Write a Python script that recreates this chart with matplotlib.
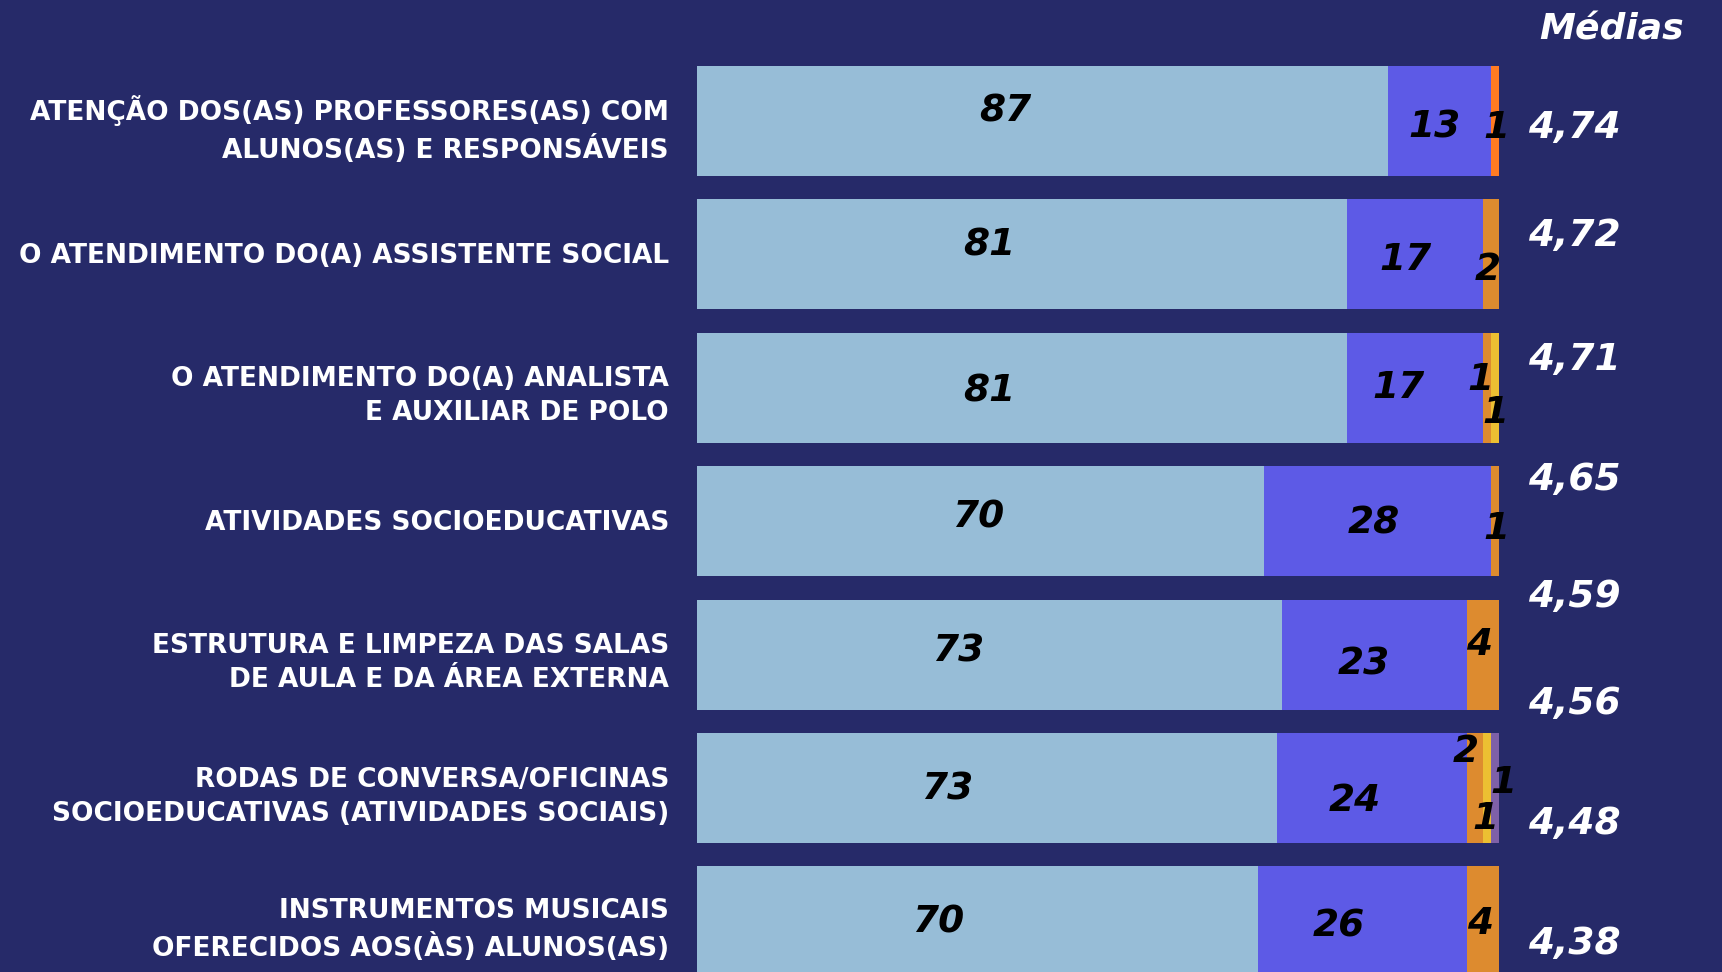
import numpy as np
import matplotlib
matplotlib.use("Agg")
import matplotlib.pyplot as plt

# ======================================
# Data
# ======================================
categories = [
    "ATENÇÃO DOS(AS) PROFESSORES(AS) COM\nALUNOS(AS) E RESPONSÁVEIS",
    "O ATENDIMENTO DO(A) ASSISTENTE SOCIAL",
    "O ATENDIMENTO DO(A) ANALISTA\nE AUXILIAR DE POLO",
    "ATIVIDADES SOCIOEDUCATIVAS",
    "ESTRUTURA E LIMPEZA DAS SALAS\nDE AULA E DA ÁREA EXTERNA",
    "RODAS DE CONVERSA/OFICINAS\nSOCIOEDUCATIVAS (ATIVIDADES SOCIAIS)",
    "INSTRUMENTOS MUSICAIS\nOFERECIDOS AOS(ÀS) ALUNOS(AS)",
]
otimo   = [87, 81, 81, 70, 73, 73, 70]
bom     = [13, 17, 17, 28, 23, 24, 26]
regular = [0, 2, 1, 1, 4, 2, 4]
ruim    = [0, 0, 1, 0, 0, 1, 0]
pessimo = [0, 0, 0, 0, 0, 1, 0]
outro   = [1, 0, 0, 0, 0, 0, 0]

medias = ["4,74", "4,72", "4,71", "4,65", "4,59", "4,56", "4,48", "4,38"]

# ======================================
# Style / layout
# ======================================
bg = "#262a69"
series = [otimo, bom, regular, ruim, pessimo, outro]
colors = ["#97bdd7", "#5d5ae6", "#dd8b2f", "#ecbf32", "#7e60a8", "#ff7b22"]

# hand placement of the value labels (x in %, y shift in rows)
label_pos = [
    [(38.5, -0.074), (91.9, 0.05), (99.7, 0.05)],
    [(36.4, -0.07), (88.4, 0.045), (98.6, 0.12)],
    [(36.4, 0.03), (87.5, 0.0), (97.7, -0.06), (99.5, 0.19)],
    [(35.1, -0.03), (84.4, 0.02), (99.7, 0.06)],
    [(32.6, -0.025), (83.1, 0.075), (97.5, -0.075)],
    [(31.2, 0.01), (82.0, 0.10), (95.8, -0.27), (98.3, 0.23), (100.5, -0.04)],
    [(30.1, 0.01), (80.0, 0.04), (97.7, 0.02)],
]
media_y = [0.05, 0.86, 1.79, 2.69, 3.57, 4.37, 5.27, 6.17]

fig = plt.figure(figsize=(17.22, 9.72), dpi=100, facecolor=bg)
ax = fig.add_axes([697 / 1722, 0, 802 / 1722, 1])
ax.set_facecolor(bg)
ax.set_xlim(0, 100)
ax.set_ylim(6.379, -0.907)
ax.axis("off")

vals = np.array(series, dtype=float)
tot = vals.sum(axis=0)
widths = vals / tot * 100
y = np.arange(len(categories))

left = np.zeros(len(categories))
for w, c in zip(widths, colors):
    ax.barh(y, w, left=left, height=0.824, color=c, linewidth=0)
    left += w

# value labels
for i in range(len(categories)):
    nz = [int(v[i]) for v in series if v[i] > 0]
    for v, (lx, dy) in zip(nz, label_pos[i]):
        ax.text(lx, i + dy, str(v), ha="center", va="center", fontsize=27,
                fontweight="bold", fontstyle="italic", color="black", clip_on=False)

# category labels
for i, lab in enumerate(categories):
    dy = 0.065 if "\n" in lab else 0.015
    ax.text(-3.5, i + dy, lab, ha="right", va="center", fontsize=19,
            fontweight="bold", color="white", linespacing=1.4, clip_on=False)

# means column
for m, my in zip(medias, media_y):
    ax.text(109.35, my, m, ha="center", va="center", fontsize=27,
            fontweight="bold", fontstyle="italic", color="white", clip_on=False)

fig.text(1612 / 1722, 1 - 30 / 972, "Médias", ha="center", va="center", fontsize=26,
         fontweight="bold", fontstyle="italic", color="white")

fig.savefig("out.png", dpi=100, facecolor=bg)
